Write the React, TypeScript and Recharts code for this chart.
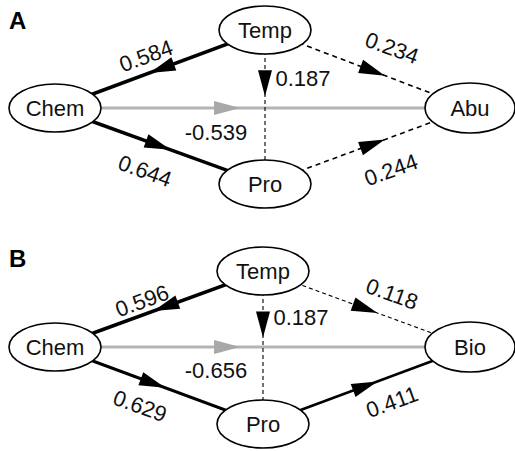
import React from 'react';
import { ScatterChart, Scatter, XAxis, YAxis } from 'recharts';

const W = 515;
const H = 451;
const FONT = '"Liberation Sans", Arial, Helvetica, sans-serif';

// ---------- Panel A ----------
const nodesA = [
  { id: 'Chem', x: 55, y: 108 },
  { id: 'Temp', x: 265, y: 30 },
  { id: 'Pro', x: 265, y: 184 },
  { id: 'Abu', x: 470, y: 108 },
];
const pathsA = [
  { from: 'Temp', to: 'Chem', coef: '0.584' },
  { from: 'Chem', to: 'Pro', coef: '0.644' },
  { from: 'Chem', to: 'Abu', coef: '-0.539' },
  { from: 'Temp', to: 'Pro', coef: '0.187' },
  { from: 'Temp', to: 'Abu', coef: '0.234' },
  { from: 'Pro', to: 'Abu', coef: '0.244' },
];
const labelPosA = [
  { x: 146, y: 56, angle: -20 },
  { x: 145, y: 171, angle: 20 },
  { x: 216, y: 132, angle: 0 },
  { x: 303, y: 78, angle: 0 },
  { x: 392, y: 48, angle: 20 },
  { x: 391, y: 170, angle: -20 },
];
const arrowAtA = [0.55, 0.55, 0.446, 0.43, 0.585, 0.585];
const styleA = ['bold', 'bold', 'gray', 'dashThin', 'dash', 'dash'];

// ---------- Panel B ----------
const nodesB = [
  { id: 'Chem', x: 55, y: 347 },
  { id: 'Temp', x: 263, y: 271 },
  { id: 'Pro', x: 263, y: 424 },
  { id: 'Bio', x: 470, y: 347 },
];
const pathsB = [
  { from: 'Temp', to: 'Chem', coef: '0.596' },
  { from: 'Chem', to: 'Pro', coef: '0.629' },
  { from: 'Chem', to: 'Bio', coef: '-0.656' },
  { from: 'Temp', to: 'Pro', coef: '0.187' },
  { from: 'Temp', to: 'Bio', coef: '0.118' },
  { from: 'Pro', to: 'Bio', coef: '0.411' },
];
const labelPosB = [
  { x: 142, y: 301, angle: -20 },
  { x: 140, y: 406, angle: 20 },
  { x: 216, y: 370, angle: 0 },
  { x: 301, y: 317, angle: 0 },
  { x: 392, y: 294, angle: 20 },
  { x: 392, y: 402, angle: -20 },
];
const arrowAtB = [0.527, 0.53, 0.446, 0.435, 0.553, 0.553];
const styleB = ['bold', 'bold2', 'gray', 'dashThin', 'dashThin', 'solid'];

const panelLetters = [
  { x: 9, y: 20, text: 'A' },
  { x: 9, y: 258, text: 'B' },
];

const STYLES: Record<string, { stroke: string; strokeWidth: number; strokeDasharray?: string; head: string }> = {
  bold: { stroke: '#000', strokeWidth: 3.5, head: '#000' },
  bold2: { stroke: '#000', strokeWidth: 3, head: '#000' },
  solid: { stroke: '#000', strokeWidth: 2.5, head: '#000' },
  gray: { stroke: '#b4b4b4', strokeWidth: 3, head: '#a8a8a8' },
  dash: { stroke: '#000', strokeWidth: 1.6, strokeDasharray: '5 4', head: '#000' },
  dashThin: { stroke: '#000', strokeWidth: 1.1, strokeDasharray: '4 3', head: '#000' },
};

type Node = { id: string; x: number; y: number };

function buildPanel(nodes: Node[], paths: any[], labelPos: any[], arrowAt: number[], styles: string[]) {
  const find = (id: string) => nodes.find((n) => n.id === id) as Node;
  const segments = paths.map((p, i) => {
    const s = find(p.from);
    const t = find(p.to);
    return { key: p.from + '-' + p.to, style: styles[i], data: [{ x: s.x, y: s.y }, { x: t.x, y: t.y }] };
  });
  const arrows = paths.map((p, i) => {
    const s = find(p.from);
    const t = find(p.to);
    const a = arrowAt[i];
    return {
      x: s.x + (t.x - s.x) * a,
      y: s.y + (t.y - s.y) * a,
      dx: t.x - s.x,
      dy: t.y - s.y,
      color: STYLES[styles[i]].head,
    };
  });
  const labels = paths.map((p, i) => ({ x: labelPos[i].x, y: labelPos[i].y, angle: labelPos[i].angle, text: p.coef }));
  return { segments, arrows, labels };
}

const panelA = buildPanel(nodesA, pathsA, labelPosA, arrowAtA, styleA);
const panelB = buildPanel(nodesB, pathsB, labelPosB, arrowAtB, styleB);
const allSegments = [...panelA.segments.map((s) => ({ ...s, key: 'A' + s.key })), ...panelB.segments.map((s) => ({ ...s, key: 'B' + s.key }))];
const allArrows = [...panelA.arrows, ...panelB.arrows];
const allLabels = [...panelA.labels, ...panelB.labels];
const allNodes = [...nodesA, ...nodesB];

const Empty = () => <g />;

const ArrowHead = (props: any) => {
  const { cx, cy, payload } = props;
  if (cx == null || cy == null) return <g />;
  const len = Math.hypot(payload.dx, payload.dy) || 1;
  const ux = payload.dx / len;
  const uy = payload.dy / len;
  const L = 26;
  const hw = 7;
  const bx = cx - ux * L;
  const by = cy - uy * L;
  const pts = `${cx},${cy} ${bx - uy * hw},${by + ux * hw} ${bx + uy * hw},${by - ux * hw}`;
  return <polygon points={pts} fill={payload.color} stroke="none" />;
};

const NodeShape = (props: any) => {
  const { cx, cy, payload } = props;
  if (cx == null || cy == null) return <g />;
  const wide = payload.id === 'Abu' || payload.id === 'Bio';
  return (
    <g>
      <ellipse cx={cx} cy={cy} rx={wide ? 45 : 46} ry={wide ? 25 : 24} fill="#fff" stroke="#000" strokeWidth={1.6} />
      <text x={cx} y={cy} textAnchor="middle" dominantBaseline="central" fontSize={22} fontFamily={FONT} fill="#111">
        {payload.id}
      </text>
    </g>
  );
};

const LabelShape = (props: any) => {
  const { cx, cy, payload } = props;
  if (cx == null || cy == null) return <g />;
  return (
    <text
      x={cx}
      y={cy}
      textAnchor="middle"
      dominantBaseline="central"
      fontSize={22}
      fontFamily={FONT}
      fill="#111"
      transform={`rotate(${payload.angle} ${cx} ${cy})`}
    >
      {payload.text}
    </text>
  );
};

const LetterShape = (props: any) => {
  const { cx, cy, payload } = props;
  if (cx == null || cy == null) return <g />;
  return (
    <text x={cx} y={cy} textAnchor="start" dominantBaseline="central" fontSize={24} fontWeight="bold" fontFamily={FONT} fill="#000">
      {payload.text}
    </text>
  );
};

export default function App() {
  return (
    <div style={{ position: 'absolute', left: 0, top: 0, width: W, height: H, background: '#fff' }}>
      <ScatterChart width={W} height={H} margin={{ top: 0, right: 0, bottom: 0, left: 0 }}>
        <XAxis type="number" dataKey="x" domain={[0, W]} hide allowDataOverflow />
        <YAxis type="number" dataKey="y" domain={[0, H]} reversed hide allowDataOverflow />
        {allSegments.map((seg) => {
          const st = STYLES[seg.style];
          return (
            <Scatter
              key={seg.key}
              data={seg.data}
              isAnimationActive={false}
              shape={Empty}
              legendType="none"
              line={{ stroke: st.stroke, strokeWidth: st.strokeWidth, strokeDasharray: st.strokeDasharray }}
              lineType="joint"
            />
          );
        })}
        <Scatter data={allArrows} isAnimationActive={false} shape={ArrowHead} legendType="none" />
        <Scatter data={allNodes} isAnimationActive={false} shape={NodeShape} legendType="none" />
        <Scatter data={allLabels} isAnimationActive={false} shape={LabelShape} legendType="none" />
        <Scatter data={panelLetters} isAnimationActive={false} shape={LetterShape} legendType="none" />
      </ScatterChart>
    </div>
  );
}
